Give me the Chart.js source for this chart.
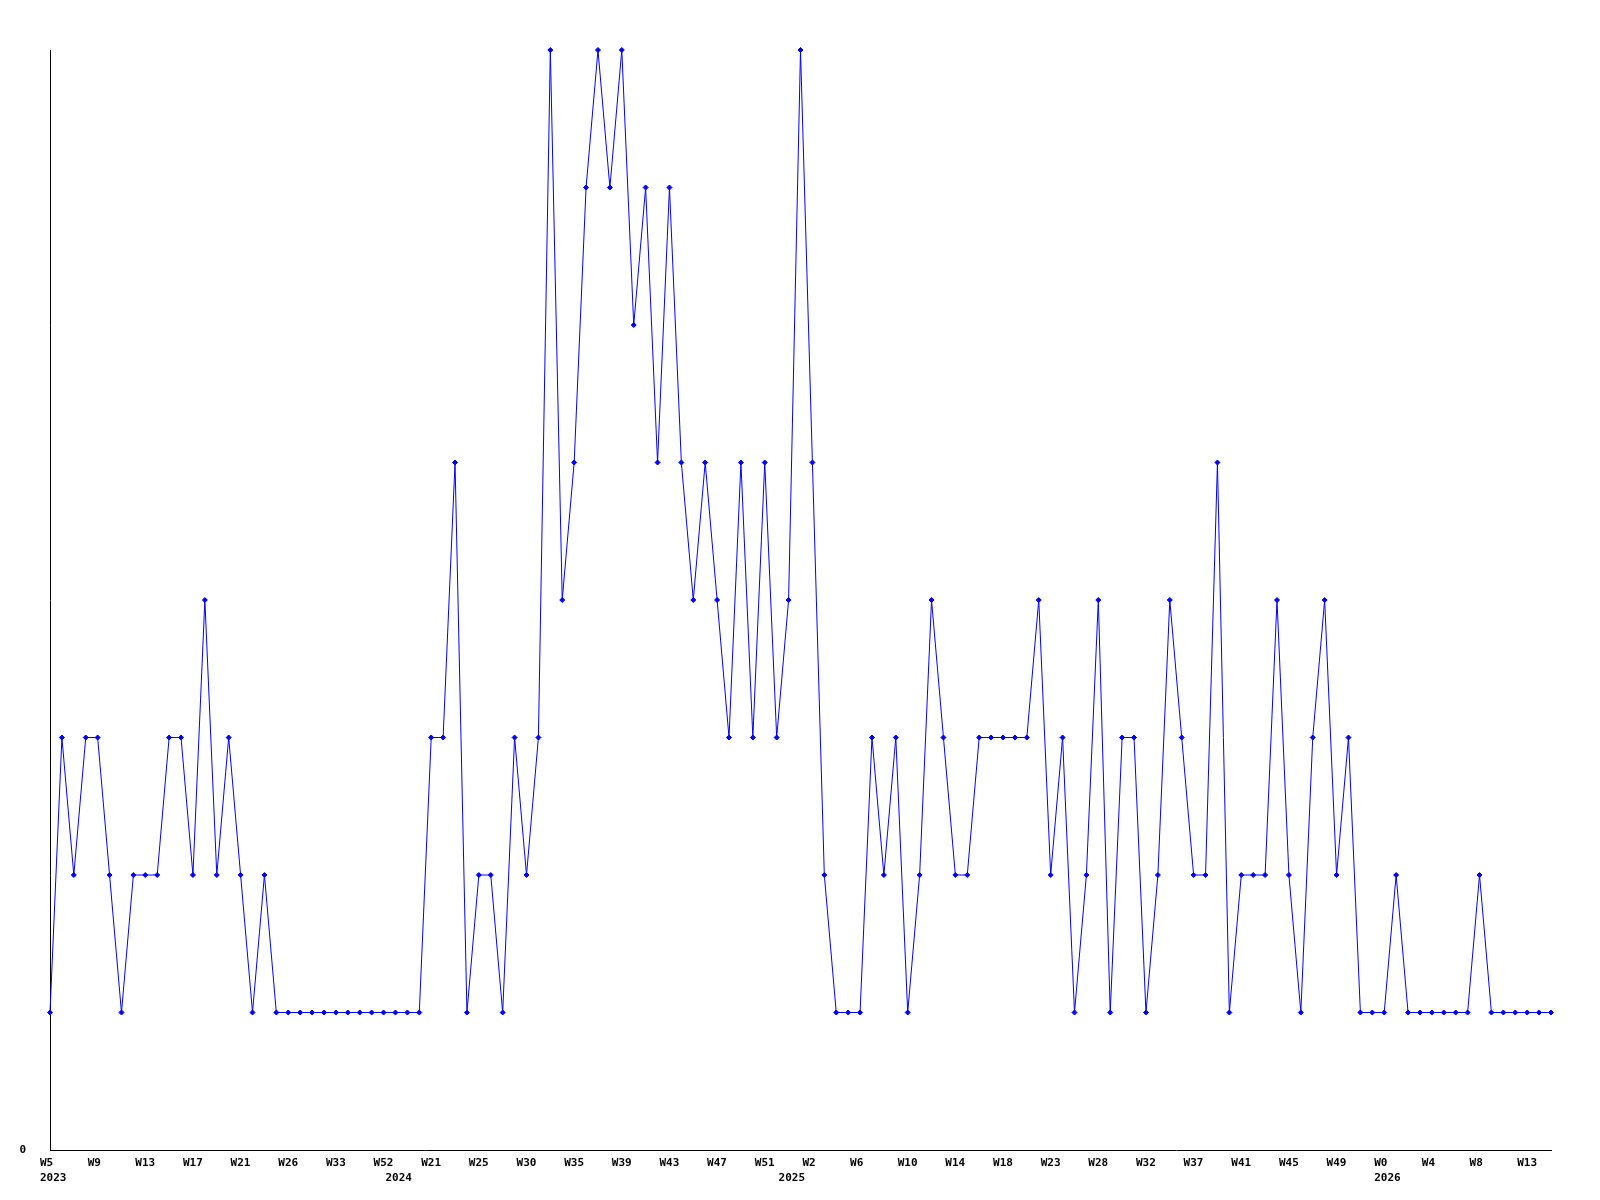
<!DOCTYPE html>
<html>
<head>
<meta charset="utf-8">
<title>Weekly count</title>
<script src="https://cdn.jsdelivr.net/npm/chart.js@4/dist/chart.umd.min.js"></script>
<style>
  html, body { margin: 0; padding: 0; background: #fff; }
  #wrap { width: 1600px; height: 1200px; }
</style>
</head>
<body>
<div id="wrap"><canvas id="chart" width="1600" height="1200"></canvas></div>
<script>
// tick labels, one every 4 points
const weekTicks = ['W5', 'W9', 'W13', 'W17', 'W21', 'W26', 'W33', 'W52', 'W21', 'W25', 'W30',
  'W35', 'W39', 'W43', 'W47', 'W51', 'W2', 'W6', 'W10', 'W14', 'W18', 'W23', 'W28', 'W32',
  'W37', 'W41', 'W45', 'W49', 'W0', 'W4', 'W8', 'W13'];
const tickEvery = 4;

// year labels and the point where each year starts
const years = ['2023', '2024', '2025', '2026'];
const yearStart = [0, 29, 62, 112];

const counts = [
  1, 3, 2, 3, 3, 2, 1, 2, 2, 2, 3, 3, 2, 4, 2, 3, 2, 1, 2, 1,
  1, 1, 1, 1, 1, 1, 1, 1, 1, 1, 1, 1,
  3, 3, 5, 1, 2, 2, 1, 3, 2, 3, 8, 4, 5, 7, 8, 7, 8, 6, 7, 5,
  7, 5, 4, 5, 4, 3, 5, 3, 5, 3, 4, 8, 5, 2, 1, 1, 1, 3, 2, 3,
  1, 2, 4, 3, 2, 2, 3, 3, 3, 3, 3, 4, 2, 3, 1, 2, 4, 1, 3, 3,
  1, 2, 4, 3, 2, 2, 5, 1, 2, 2, 2, 4, 2, 1, 3, 4, 2, 3, 1, 1,
  1, 2, 1, 1, 1, 1, 1, 1, 2, 1, 1, 1, 1, 1, 1
];

// build category labels: week on first line, year (if any) on second
const labels = counts.map((_, i) => {
  const wk = i % tickEvery === 0 ? (weekTicks[i / tickEvery] || '') : '';
  const yi = yearStart.indexOf(i);
  if (yi >= 0) return [wk, years[yi]];
  return wk;
});

const tickFont = { family: '"DejaVu Sans Mono", monospace', size: 11, weight: 'bold', lineHeight: 1.4 };

new Chart(document.getElementById('chart'), {
  type: 'line',
  data: {
    labels: labels,
    datasets: [{
      data: counts,
      borderColor: '#0000ff',
      backgroundColor: '#0000ff',
      borderWidth: 1,
      tension: 0,
      pointStyle: 'rectRot',
      pointRadius: 2.5,
      pointBorderWidth: 1,
      pointBorderColor: '#0000ff',
      pointBackgroundColor: '#0000ff',
      clip: false
    }]
  },
  options: {
    responsive: false,
    animation: false,
    layout: { padding: { top: 50, right: 49, left: 0, bottom: 0 } },
    plugins: {
      legend: { display: false },
      tooltip: { enabled: false }
    },
    scales: {
      x: {
        type: 'category',
        offset: false,
        grid: { display: false, drawTicks: false },
        border: { display: true, color: '#000', width: 1 },
        ticks: {
          autoSkip: false,
          maxRotation: 0,
          minRotation: 0,
          align: 'start',
          labelOffset: -10,
          padding: 5,
          color: '#000',
          font: tickFont
        },
        afterFit: (scale) => { scale.height = 50; }
      },
      y: {
        min: 0,
        max: 8,
        grid: { display: false, drawTicks: false },
        border: { display: true, color: '#000', width: 1 },
        ticks: {
          stepSize: 1,
          padding: 24,
          color: '#000',
          font: tickFont,
          callback: (v) => v === 0 ? '0' : ''
        },
        afterFit: (scale) => { scale.width = 50; }
      }
    }
  }
});
</script>
</body>
</html>
